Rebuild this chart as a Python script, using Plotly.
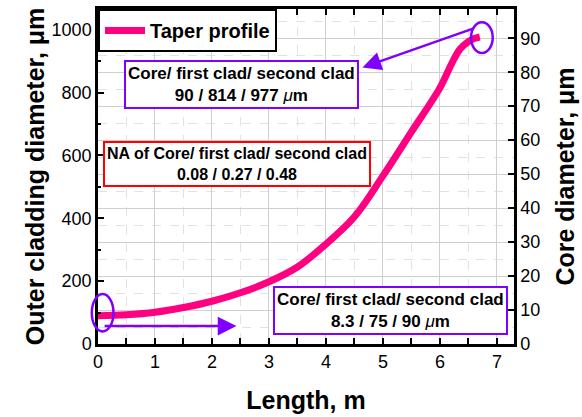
import plotly.graph_objects as go

# ---- data ----
length_m = [0, 0.5, 1, 1.5, 2, 2.5, 3, 3.5, 4, 4.5, 5, 5.5, 6, 6.2, 6.35, 6.5, 6.6, 6.7]
outer_um = [90, 93, 101, 116, 136, 163, 198, 245, 318, 405, 535, 675, 815, 890, 938, 962, 972, 977]

x_range = [0, 7.3]
y_range = [0, 1066]
y2_range = [0, 98.6]

PINK = "#FF0080"
PURPLE = "#8000FF"
FONT = "Liberation Sans, Arial, sans-serif"

fig = go.Figure()
fig.add_trace(go.Scatter(
    x=length_m, y=outer_um, mode="lines", name="<b>Taper profile</b>",
    line=dict(color=PINK, width=7, shape="spline"),
))
# invisible trace to activate right axis
fig.add_trace(go.Scatter(x=[None], y=[None], yaxis="y2", showlegend=False, hoverinfo="skip"))


def xd(v):
    return (v - x_range[0]) / (x_range[1] - x_range[0])


def yd(v):
    return (v - y_range[0]) / (y_range[1] - y_range[0])


# ellipses (domain refs, so they are not clipped)
ellipses = [(6.546, 6.927, 926, 1024), (-0.109, 0.272, 40, 159)]
for x0, x1, y0, y1 in ellipses:
    fig.add_shape(type="circle", xref="x domain", yref="y domain",
                  x0=xd(x0), x1=xd(x1), y0=yd(y0), y1=yd(y1),
                  line=dict(color=PURPLE, width=2.5))

# arrows
arrows = [((6.62, 1006), (4.64, 880)), ((0.09, 57), (2.43, 57))]
for (tx, ty), (hx, hy) in arrows:
    fig.add_annotation(x=hx, y=hy, ax=tx, ay=ty, xref="x", yref="y", axref="x", ayref="y",
                       text="", showarrow=True, arrowhead=2, arrowsize=1.5, arrowwidth=2.5,
                       arrowcolor=PURPLE, standoff=0, startstandoff=0)

boxes = [
    (2.52, 825, "<b>Core/ first clad/ second clad<br>90 / 814 / 977 </b><i>μ</i><b>m</b>", PURPLE, 17),
    (2.435, 572, "<b>NA of Core/ first clad/ second clad<br>0.08 / 0.27 / 0.48</b>", "#FF0000", 16),
    (5.13, 107, "<b>Core/ first clad/ second clad<br>8.3 / 75 / 90 </b><i>μ</i><b>m</b>", PURPLE, 17),
]
for bx, by, txt, col, fs in boxes:
    fig.add_annotation(x=bx, y=by, xref="x", yref="y", text=txt, showarrow=False,
                       font=dict(family=FONT, size=fs, color="black"),
                       bgcolor="white", bordercolor=col, borderwidth=2, borderpad=2,
                       align="center")

axis_common = dict(showline=True, linecolor="black", linewidth=2.5,
                   ticks="inside", tickcolor="black", tickwidth=2, ticklen=6,
                   tickfont=dict(family=FONT, size=18, color="black"),
                   zeroline=False)

fig.update_layout(
    width=582, height=417,
    margin=dict(l=98, r=63, t=6, b=72),
    plot_bgcolor="white", paper_bgcolor="white",
    font=dict(family=FONT, color="black"),
    showlegend=True,
    legend=dict(x=0, y=1, xanchor="left", yanchor="top", bgcolor="white",
                bordercolor="black", borderwidth=2,
                font=dict(family=FONT, size=20, color="black"),
                itemwidth=40, tracegroupgap=0),
    xaxis=dict(range=x_range, dtick=1, tick0=0, mirror="allticks",
               showgrid=True, gridcolor="#cfcfcf", gridwidth=1,
               minor=dict(dtick=0.5, ticks="inside", ticklen=3, tickcolor="black",
                          showgrid=True, gridcolor="#e2e2e2", griddash="dash"),
               title=dict(text="<b>Length, m</b>", font=dict(family=FONT, size=25), standoff=21),
               **axis_common),
    yaxis=dict(range=y_range, dtick=200, tick0=0, showgrid=False,
               minor=dict(dtick=100, ticks="inside", ticklen=3, tickcolor="black"),
               title=dict(text="<b>Outer cladding diameter, μm</b>", font=dict(family=FONT, size=25), standoff=0),
               **axis_common),
    yaxis2=dict(range=y2_range, dtick=10, tick0=0, overlaying="y", side="right",
                showgrid=True, gridcolor="#cfcfcf", gridwidth=1,
                minor=dict(dtick=5, showgrid=True, gridcolor="#e2e2e2", griddash="dash"),
                title=dict(text="<b>Core diameter, μm</b>", font=dict(family=FONT, size=25), standoff=18),
                **axis_common),
)

fig.write_html("out.html")
